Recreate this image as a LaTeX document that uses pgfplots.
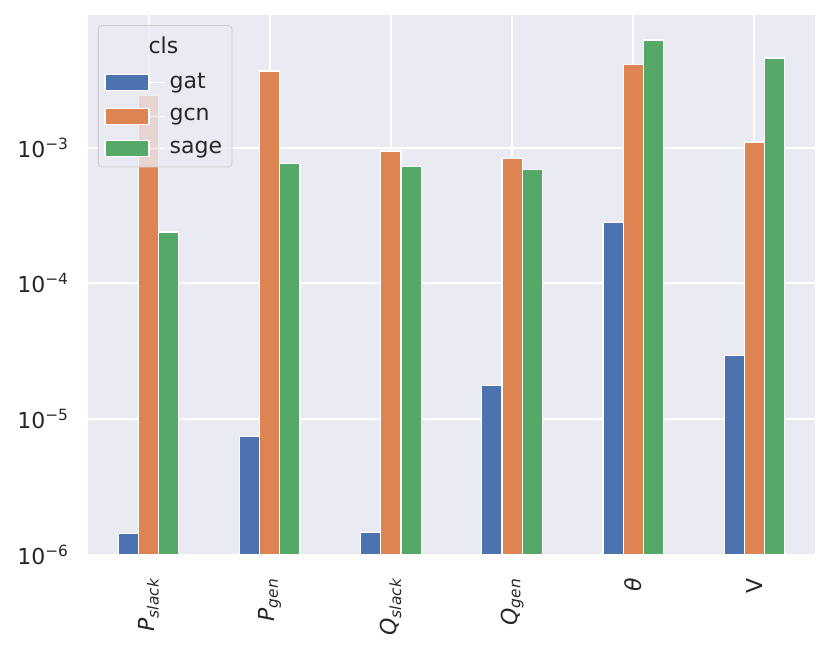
\documentclass[border=0pt]{standalone}
\usepackage{fontspec}
\setmainfont{DejaVu Sans}
\usepackage{pgfplots}
\pgfplotsset{compat=1.18}
\definecolor{sbblue}{HTML}{4C72B0}
\definecolor{sborange}{HTML}{DD8452}
\definecolor{sbgreen}{HTML}{55A868}
\definecolor{sbbg}{HTML}{EAEAF2}
\definecolor{sbtext}{HTML}{262626}
\definecolor{sbedge}{HTML}{CCCCCC}
\begin{document}
\begin{tikzpicture}
\begin{axis}[
  scale only axis, width=363.5bp, height=270bp,
  ymode=log, log origin=infty,
  xmin=-0.5, xmax=5.5, ymin=1e-6, ymax=9.47e-3,
  axis background/.style={fill=sbbg},
  axis line style={draw=none},
  major tick length=0pt, minor tick length=0pt,
  tick style={draw=none},
  grid=major, major grid style={white, line width=1bp},
  xtick={0,1,2,3,4,5},
  xticklabels={{\itshape P\textsubscript{slack}},{\itshape P\textsubscript{gen}},{\itshape Q\textsubscript{slack}},{\itshape Q\textsubscript{gen}},{\itshape θ},V},
  xticklabel style={yshift=-8bp, rotate=90, anchor=east, font=\fontsize{11bp}{13bp}\selectfont, text=sbtext},
  ytick={1e-6,1e-5,1e-4,1e-3},
  yticklabels={10\textsuperscript{−6},10\textsuperscript{−5},10\textsuperscript{−4},10\textsuperscript{−3}},
  yticklabel style={anchor=east, font=\fontsize{11bp}{13bp}\selectfont, text=sbtext, xshift=-6bp},
  ybar, bar width=0.16667,
  legend style={at={(0,1)}, anchor=north west, xshift=5bp, yshift=-5bp,
    fill=sbbg, fill opacity=0.8, text opacity=1, draw=sbedge, rounded corners=2bp,
    font=\fontsize{11bp}{13bp}\selectfont, text=sbtext,
    inner xsep=3bp, inner ysep=3.5bp, row sep=4.5bp,
    nodes={inner xsep=2bp}},
  legend cell align=left,
  legend image code/.code={\path (0bp,0bp) -- (30bp,0bp);
    \draw[#1, sharp corners, fill opacity=1, draw opacity=1, draw=white, line width=0.6bp] (0bp,-4bp) rectangle (22bp,4bp);},
]
\addlegendimage{empty legend}
\addlegendentry{\hspace*{-10.5bp}cls}
\addplot[fill=sbblue, draw=white, line width=0.6bp, bar shift=-0.16667] coordinates {
  (0,1.44e-6) (1,7.43e-6) (2,1.47e-6) (3,1.77e-5) (4,2.79e-4) (5,2.94e-5)};
\addlegendentry{gat}
\addplot[fill=sborange, draw=white, line width=0.6bp, bar shift=0] coordinates {
  (0,2.44e-3) (1,3.66e-3) (2,9.44e-4) (3,8.28e-4) (4,4.10e-3) (5,1.10e-3)};
\addlegendentry{gcn}
\addplot[fill=sbgreen, draw=white, line width=0.6bp, bar shift=0.16667] coordinates {
  (0,2.39e-4) (1,7.66e-4) (2,7.23e-4) (3,6.92e-4) (4,6.20e-3) (5,4.57e-3)};
\addlegendentry{sage}
\end{axis}
\pgfresetboundingbox
\useasboundingbox ([shift={(-44bp,-48bp)}]current axis.south west) rectangle ([shift={(371.5bp,277.5bp)}]current axis.south west);
\end{tikzpicture}
\end{document}
